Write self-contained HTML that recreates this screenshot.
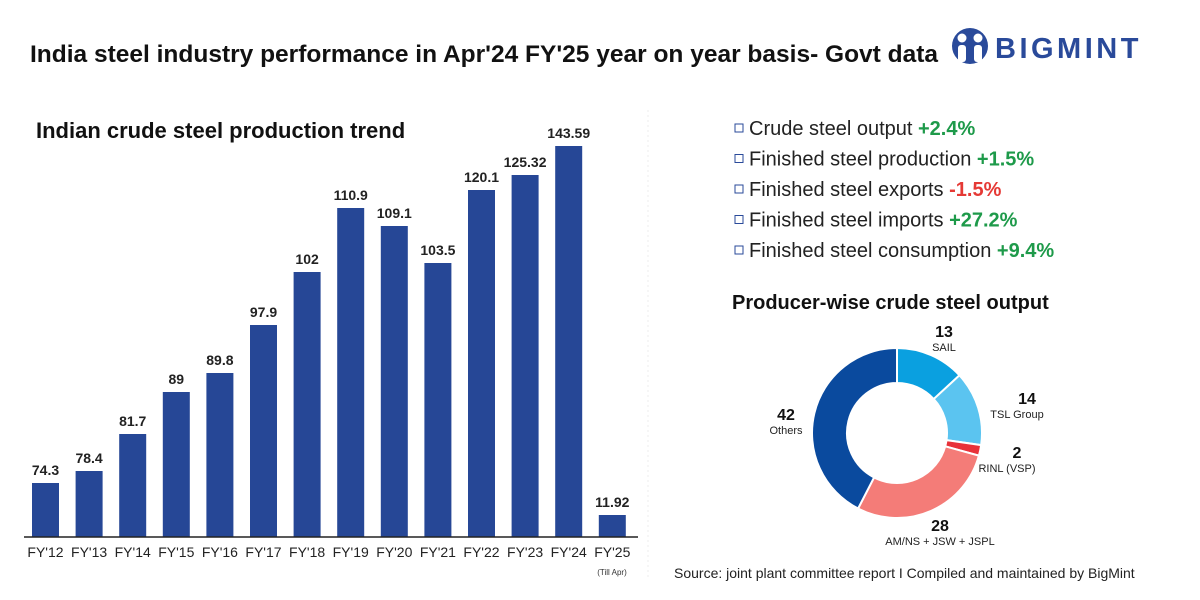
<!DOCTYPE html>
<html><head><meta charset="utf-8"><style>
body{margin:0;background:#fff;width:1200px;height:600px;overflow:hidden;font-family:"Liberation Sans",sans-serif}
svg{display:block}
</style></head><body>
<svg width="1200" height="600" id="svg">
<text x="30" y="62" font-size="24.5" font-weight="bold" fill="#111">India steel industry performance in Apr'24 FY'25 year on year basis- Govt data</text>
<g>
<circle cx="970" cy="46" r="18" fill="#2a4a9a"/>
<circle cx="962" cy="38" r="4.5" fill="#fff"/><circle cx="978" cy="38" r="4.5" fill="#fff"/>
<rect x="958" y="45" width="8" height="17" rx="3" fill="#fff"/><rect x="974" y="45" width="8" height="17" rx="3" fill="#fff"/>
<text x="995" y="58" font-size="29" font-weight="bold" fill="#2a4a9a" letter-spacing="3.5">BIGMINT</text>
</g>
<line x1="648" y1="110" x2="648" y2="580" stroke="#eee" stroke-dasharray="2,3"/>
<text x="36" y="138" font-size="22" font-weight="bold" fill="#111">Indian crude steel production trend</text>
<g id="bars"></g>
<line x1="24" y1="537" x2="638" y2="537" stroke="#222" stroke-width="1.5"/>
<text x="612" y="575" font-size="8" fill="#333" text-anchor="middle">(Till Apr)</text>
<g id="legend" font-size="20" fill="#222"></g>
<text x="732" y="309" font-size="20" font-weight="bold" fill="#111">Producer-wise crude steel output</text>
<g id="donut"></g>
<text x="674" y="578" font-size="14" fill="#222">Source: joint plant committee report  I  Compiled and maintained by BigMint</text>
</svg>
<script>
const categories=["FY'12","FY'13","FY'14","FY'15","FY'16","FY'17","FY'18","FY'19","FY'20","FY'21","FY'22","FY'23","FY'24","FY'25"];
const production=[74.3,78.4,81.7,89,89.8,97.9,102,110.9,109.1,103.5,120.1,125.32,143.59,11.92];
const valueLabels=["74.3","78.4","81.7","89","89.8","97.9","102","110.9","109.1","103.5","120.1","125.32","143.59","11.92"];
const producers=["SAIL","TSL Group","RINL (VSP)","AM/NS + JSW + JSPL","Others"];
const shares=[13,14,2,28,42];
const metrics=["Crude steel output","Finished steel production","Finished steel exports","Finished steel imports","Finished steel consumption"];
const changes=[2.4,1.5,-1.5,27.2,9.4];
const NS="http://www.w3.org/2000/svg";
function mk(t,a,p){const e=document.createElementNS(NS,t);for(const k in a)e.setAttribute(k,a[k]);p.appendChild(e);return e;}
// polylinear (non-uniform) scale as drawn in the original graphic
const dom=[0,11.92,74.3,78.4,81.7,89,89.8,97.9,102,103.5,109.1,110.9,120.1,125.32,143.59],rng=[537,515,483,471,434,392,373,325,272,263,226,208,190,175,146];
function y(v){for(let i=1;i<dom.length;i++){if(v<=dom[i]||i==dom.length-1){const t=(v-dom[i-1])/(dom[i]-dom[i-1]);return rng[i-1]+t*(rng[i]-rng[i-1]);}}}
function x(i){return 45.5+i*43.6;}
const bars=document.getElementById('bars');
categories.forEach((c,i)=>{
 const r=mk('rect',{x:x(i)-13.5,y:y(production[i]),width:27,height:537-y(production[i]),fill:'#264796'},bars);
 
 
 const l=mk('text',{x:x(i),y:y(production[i])-8,'font-size':14,'font-weight':'bold','text-anchor':'middle',fill:'#222'},bars);l.textContent=valueLabels[i];
 
 
 const t=mk('text',{x:x(i),y:557,'font-size':14,'text-anchor':'middle',fill:'#222'},bars);t.textContent=c;
 
 
});
const lg=document.getElementById('legend');
metrics.forEach((m,i)=>{
 const yy=135+i*30.5;
 const b=mk('rect',{x:735,y:yy-11,width:8,height:8,fill:'none',stroke:'#2a4a9a','stroke-width':1},lg);
 
 
 const t=mk('text',{x:749,y:yy},lg);
 
 
 t.appendChild(document.createTextNode(m+' '));
 const s=mk('tspan',{'font-weight':'bold',fill:changes[i]<0?'#e53935':'#1e9a4a'},t);
 s.textContent=(changes[i]>0?'+':'')+changes[i].toFixed(1)+'%';
});
const dn=document.getElementById('donut');
const cx=897,cy=433,R=85,r0=50;
const colors=['#0aa0e0','#5bc4f0','#e8323a','#f47c78','#0a4a9e'];
const labelPos=[[944,337,'middle'],[1017,404,'middle'],[1007,458,'middle'],[940,531,'middle'],[786,420,'middle']];
const tot=shares.reduce((a,b)=>a+b,0);let a0=0;
shares.forEach((v,i)=>{
 const a1=a0+v/tot*2*Math.PI;
 const p=(a,rr)=>[cx+rr*Math.sin(a),cy-rr*Math.cos(a)];
 const [x1,y1]=p(a0,R),[x2,y2]=p(a1,R),[x3,y3]=p(a1,r0),[x4,y4]=p(a0,r0);
 const lf=(a1-a0)>Math.PI?1:0;
 const s=mk('path',{d:`M${x1},${y1}A${R},${R} 0 ${lf} 1 ${x2},${y2}L${x3},${y3}A${r0},${r0} 0 ${lf} 0 ${x4},${y4}Z`,fill:colors[i],stroke:'#fff','stroke-width':2},dn);
 
 
 const [lx,ly,an]=labelPos[i];
 const nx=(i==1||i==2)?lx+10:lx;
 const n=mk('text',{x:nx,y:ly,'font-size':16,'font-weight':'bold','text-anchor':an,fill:'#111'},dn);n.textContent=v;
 
 
 const t=mk('text',{x:lx,y:ly+14,'font-size':11,'text-anchor':an,fill:'#222'},dn);t.textContent=producers[i];
 
 
 a0=a1;
});
</script>
</body></html>
